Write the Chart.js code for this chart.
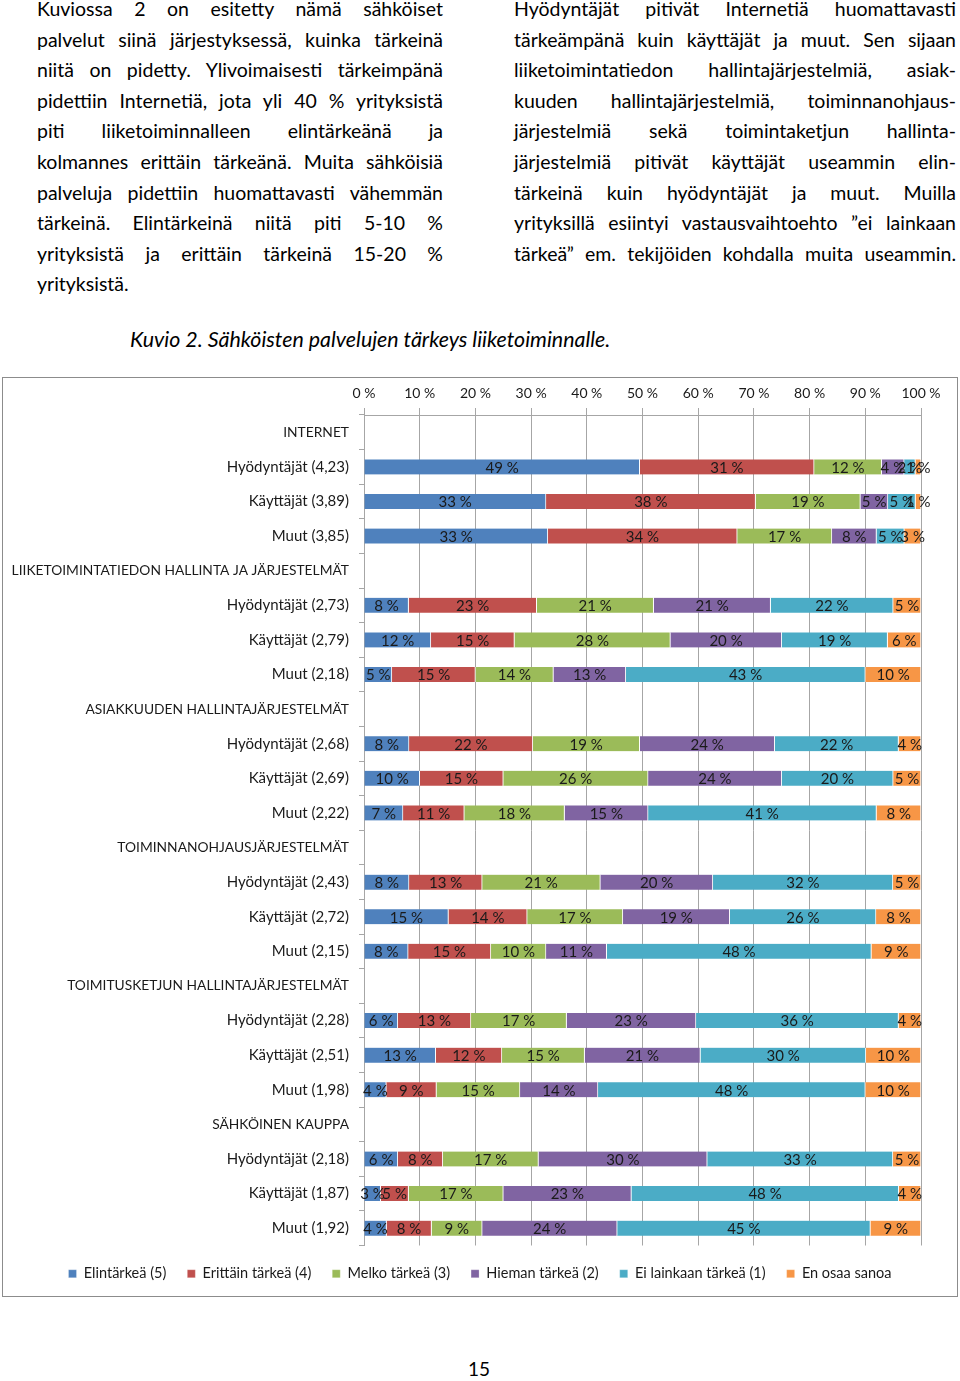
<!DOCTYPE html>
<html>
<head>
<meta charset="utf-8">
<script src="https://cdn.jsdelivr.net/npm/chart.js@4/dist/chart.umd.min.js"></script>
<style>
    body { margin: 0; background: #fff; font-family: Lato, sans-serif; color: #000; }
    .page { position: relative; width: 960px; height: 1381px; overflow: hidden; }
    .col { position: absolute; top: -6px; font-size: 19.5px; line-height: 30.6px; }
    .col div { white-space: nowrap; text-align: justify; text-align-last: justify; }
    .col div.last { text-align-last: left; }
    #left { left: 37px; width: 406px; }
    #right { left: 514px; width: 442px; }
    #caption { position: absolute; left: 130px; top: 326px; font-size: 21.4px; font-style: italic; white-space: nowrap; }
    #box { position: absolute; left: 2px; top: 377px; width: 954px; height: 918px; border: 1px solid #8c8c8c; }
    #box canvas { position: absolute; left: 0; top: 0; }
    #pageno { position: absolute; left: 0; width: 958px; top: 1357px; text-align: center; font-size: 19px; }
</style>
</head>
<body>
<div class="page">
    <div class="col" id="left">
        <div>Kuviossa 2 on esitetty nämä sähköiset</div>
        <div>palvelut siinä järjestyksessä, kuinka tärkeinä</div>
        <div>niitä on pidetty. Ylivoimaisesti tärkeimpänä</div>
        <div>pidettiin Internetiä, jota yli 40 % yrityksistä</div>
        <div>piti liiketoiminnalleen elintärkeänä ja</div>
        <div>kolmannes erittäin tärkeänä. Muita sähköisiä</div>
        <div>palveluja pidettiin huomattavasti vähemmän</div>
        <div>tärkeinä. Elintärkeinä niitä piti 5-10 %</div>
        <div>yrityksistä ja erittäin tärkeinä 15-20 %</div>
        <div class="last">yrityksistä.</div>
    </div>
    <div class="col" id="right">
        <div>Hyödyntäjät pitivät Internetiä huomattavasti</div>
        <div>tärkeämpänä kuin käyttäjät ja muut. Sen sijaan</div>
        <div>liiketoimintatiedon hallintajärjestelmiä, asiak-</div>
        <div>kuuden hallintajärjestelmiä, toiminnanohjaus-</div>
        <div>järjestelmiä sekä toimintaketjun hallinta-</div>
        <div>järjestelmiä pitivät käyttäjät useammin elin-</div>
        <div>tärkeinä kuin hyödyntäjät ja muut. Muilla</div>
        <div>yrityksillä esiintyi vastausvaihtoehto ”ei lainkaan</div>
        <div>tärkeä” em. tekijöiden kohdalla muita useammin.</div>
    </div>
    <div id="caption">Kuvio 2. Sähköisten palvelujen tärkeys liiketoiminnalle.</div>
    <div id="box"><canvas id="chart" width="954" height="913"></canvas></div>
    <div id="pageno">15</div>
</div>

<script>
// Rows of the chart, section headers have no bars
const categories = [
    'INTERNET', 'Hyödyntäjät (4,23)', 'Käyttäjät (3,89)', 'Muut (3,85)',
    'LIIKETOIMINTATIEDON HALLINTA JA JÄRJESTELMÄT', 'Hyödyntäjät (2,73)', 'Käyttäjät (2,79)', 'Muut (2,18)',
    'ASIAKKUUDEN HALLINTAJÄRJESTELMÄT', 'Hyödyntäjät (2,68)', 'Käyttäjät (2,69)', 'Muut (2,22)',
    'TOIMINNANOHJAUSJÄRJESTELMÄT', 'Hyödyntäjät (2,43)', 'Käyttäjät (2,72)', 'Muut (2,15)',
    'TOIMITUSKETJUN HALLINTAJÄRJESTELMÄT', 'Hyödyntäjät (2,28)', 'Käyttäjät (2,51)', 'Muut (1,98)',
    'SÄHKÖINEN KAUPPA', 'Hyödyntäjät (2,18)', 'Käyttäjät (1,87)', 'Muut (1,92)'
];

const seriesNames = ['Elintärkeä (5)', 'Erittäin tärkeä (4)', 'Melko tärkeä (3)', 'Hieman tärkeä (2)', 'Ei lainkaan tärkeä (1)', 'En osaa sanoa'];
const seriesColors = ['#4f81bd', '#c0504d', '#9bbb59', '#8064a2', '#4bacc6', '#f79646'];

// Percentages as printed in the bars
const elintarkea     = [null, 49, 33, 33, null,  8, 12,  5, null,  8, 10,  7, null,  8, 15,  8, null,  6, 13,  4, null,  6,  3,  4];
const erittainTarkea = [null, 31, 38, 34, null, 23, 15, 15, null, 22, 15, 11, null, 13, 14, 15, null, 13, 12,  9, null,  8,  5,  8];
const melkoTarkea    = [null, 12, 19, 17, null, 21, 28, 14, null, 19, 26, 18, null, 21, 17, 10, null, 17, 15, 15, null, 17, 17,  9];
const hiemanTarkea   = [null,  4,  5,  8, null, 21, 20, 13, null, 24, 24, 15, null, 20, 19, 11, null, 23, 21, 14, null, 30, 23, 24];
const eiLainkaan     = [null,  2,  5,  5, null, 22, 19, 43, null, 22, 20, 41, null, 32, 26, 48, null, 36, 30, 48, null, 33, 48, 45];
const enOsaaSanoa    = [null,  1,  1,  3, null,  5,  6, 10, null,  4,  5,  8, null,  5,  8,  9, null,  4, 10, 10, null,  5,  4,  9];

const xTicks = [0, 10, 20, 30, 40, 50, 60, 70, 80, 90, 100];

const seriesValues = [elintarkea, erittainTarkea, melkoTarkea, hiemanTarkea, eiLainkaan, enOsaaSanoa];

// 100 % stacked: scale every row to its total
const rowTotals = categories.map((c, i) => seriesValues.reduce((s, arr) => s + (arr[i] || 0), 0));

const fontFamily = 'Lato, sans-serif';
const gridColor = '#a6a6a6';

// Draws the value labels in the middle of each segment
const barLabels = {
    id: 'barLabels',
    afterDatasetsDraw(chart) {
        const ctx = chart.ctx;
        ctx.save();
        ctx.font = '15px ' + fontFamily;
        ctx.fillStyle = '#1a1a1a';
        ctx.textAlign = 'center';
        ctx.textBaseline = 'middle';
        chart.data.datasets.forEach((ds, di) => {
            chart.getDatasetMeta(di).data.forEach((bar, i) => {
                const v = seriesValues[di][i];
                if (v === null) return;
                ctx.fillText(v + ' %', (bar.x + bar.base) / 2, bar.y + 1);
            });
        });
        ctx.restore();
    }
};

const datasets = seriesNames.map((name, k) => ({
    label: name,
    data: seriesValues[k].map((v, i) => v === null ? null : v / rowTotals[i] * 100),
    backgroundColor: seriesColors[k],
    borderColor: '#ffffff',
    borderWidth: { top: 0, bottom: 0, left: 0, right: 1 },
    borderSkipped: false,
    barThickness: 15
}));

new Chart(document.getElementById('chart'), {
    type: 'bar',
    data: { labels: categories, datasets: datasets },
    options: {
        indexAxis: 'y',
        responsive: false,
        animation: false,
        layout: { padding: 0 },
        scales: {
            x: {
                position: 'top',
                stacked: true,
                min: 0,
                max: 100,
                afterBuildTicks: function(scale) {
                    scale.ticks = xTicks.map(v => ({ value: v }));
                },
                afterFit: function(scale) {
                    scale.height = 37;
                    scale.paddingRight = 36;
                },
                ticks: {
                    callback: v => v + ' %',
                    font: { family: fontFamily, size: 14 },
                    color: '#1a1a1a',
                    padding: 6
                },
                grid: { color: gridColor, tickLength: 7 },
                border: { color: gridColor }
            },
            y: {
                stacked: true,
                afterFit: function(scale) { scale.width = 361; },
                ticks: {
                    // section headers are set a bit smaller
                    font: c => ({ family: fontFamily, size: elintarkea[c.index] === null ? 13.8 : 15 }),
                    color: '#1a1a1a',
                    padding: 10,
                    autoSkip: false
                },
                grid: { drawOnChartArea: false, color: gridColor, tickLength: 5, offset: true },
                border: { color: gridColor }
            }
        },
        plugins: {
            tooltip: { enabled: false },
            legend: {
                position: 'bottom',
                labels: {
                    boxWidth: 8,
                    boxHeight: 8,
                    padding: 21,
                    color: '#1a1a1a',
                    font: { family: fontFamily, size: 14.5 }
                }
            }
        }
    },
    plugins: [barLabels]
});
</script>
</body>
</html>
